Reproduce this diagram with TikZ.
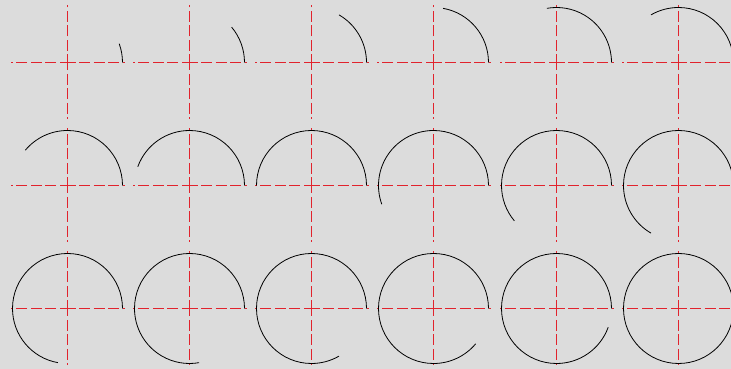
\documentclass[tikz,border=0pt]{standalone}
\usetikzlibrary{calc}

\definecolor{panelgray}{RGB}{220,220,220}
\definecolor{axisred}{RGB}{225,35,45}

\begin{document}
\begin{tikzpicture}[
    x=1pt,
    y=1pt,
    line cap=butt,
    line join=round,
    axis line/.style={axisred, line width=1pt, dash pattern=on 11pt off 3.5pt, dash phase=3pt},
    sweep arc/.style={black, line width=0.8pt},
]

% -------------------------------------------------
% Background
% -------------------------------------------------

\fill[panelgray] (0,0) rectangle (731,369);
\useasboundingbox (0,0) rectangle (731,369);

% -------------------------------------------------
% Panels: 3 rows, 6 columns, arc grows by 20 degrees
% -------------------------------------------------

\def\rad{55}
\def\half{57}

\foreach \row/\cy in {0/306.5, 1/183.5, 2/60.5} {
    \foreach \col/\cx in {0/67.5, 1/189.5, 2/311.5, 3/433.5, 4/556.5, 5/678.5} {

        \pgfmathtruncatemacro{\k}{6*\row+\col+1}
        \pgfmathsetmacro{\sweep}{20*\k}

        \coordinate (c\k) at (\cx,\cy);

        % Crosshair, drawn outward from the centre
        \foreach \dir in {0,90,180,270}
            \draw[axis line] (c\k) -- ++(\dir:\half);

        % Arc
        \draw[sweep arc]
            ($(c\k)+(\rad,0)$)
            arc[start angle=0, end angle=\sweep, radius=\rad];
    }
}

\end{tikzpicture}
\end{document}
